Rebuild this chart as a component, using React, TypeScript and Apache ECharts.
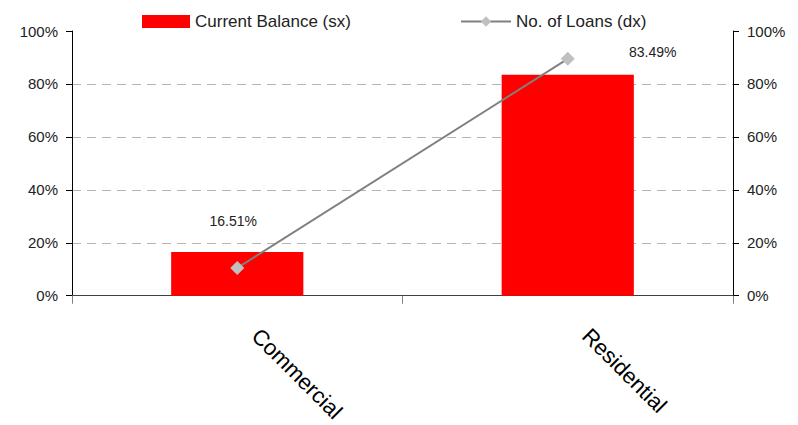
import React, { useEffect, useRef } from "react";
import * as echarts from "echarts";

const categories = ["Commercial", "Residential"];
const balanceValues = [16.51, 83.49];
const loanValues = [10.5, 89.5];
const yTicks = { min: 0, max: 100, interval: 20 };
const balanceName = "Current Balance (sx)";
const loansName = "No. of Loans (dx)";

const FONT = "Arial, 'Liberation Sans', sans-serif";

export default function App() {
  const ref = useRef<HTMLDivElement>(null);
  useEffect(() => {
    if (!ref.current) return;
    const chart = echarts.init(ref.current, undefined, { renderer: "svg" });
    const yAxisBase = (position: "left" | "right") => ({
      type: "value",
      position,
      min: yTicks.min,
      max: yTicks.max,
      interval: yTicks.interval,
      axisLine: { show: true, lineStyle: { color: "#000", width: 1 } },
      axisTick: { show: true, length: 6, inside: false, lineStyle: { color: "#000" } },
      axisLabel: {
        formatter: "{value}%",
        color: "#222",
        fontSize: 15,
        fontFamily: FONT,
        margin: 14,
      },
    });
    chart.setOption({
      animation: false,
      textStyle: { fontFamily: FONT },
      grid: { left: 72, right: 65, top: 31, bottom: 129, containLabel: false },
      legend: [
        {
          data: [{ name: balanceName, icon: "rect" }],
          left: 142,
          top: 13,
          padding: 0,
          itemWidth: 48,
          itemHeight: 13,
          textStyle: { color: "#222", fontSize: 17, fontFamily: FONT },
        },
        {
          data: [loansName],
          left: 460,
          top: 13,
          padding: 0,
          itemWidth: 50,
          itemHeight: 13,
          textStyle: { color: "#222", fontSize: 17, fontFamily: FONT },
        },
      ],
      xAxis: {
        type: "category",
        data: categories,
        boundaryGap: true,
        axisLine: { show: true, lineStyle: { color: "#404040", width: 1 } },
        axisTick: { show: true, alignWithLabel: false, length: 8, lineStyle: { color: "#808080" } },
        axisLabel: {
          rotate: -45,
          color: "#000",
          fontSize: 22,
          fontFamily: FONT,
          margin: 18,
          padding: [0, 0, 0, 26],
        },
      },
      yAxis: [
        {
          ...yAxisBase("left"),
          splitLine: {
            show: true,
            showMinLine: false,
            showMaxLine: false,
            lineStyle: { color: "#b4b4b4", type: [9, 6], width: 1 },
          },
        },
        { ...yAxisBase("right"), splitLine: { show: false } },
      ],
      series: [
        {
          name: balanceName,
          type: "bar",
          yAxisIndex: 0,
          barWidth: "40%",
          itemStyle: { color: "#ff0000" },
          data: [
            {
              value: balanceValues[0],
              label: { show: true, position: "top", offset: [-4, -19] },
            },
            {
              value: balanceValues[1],
              label: { show: true, position: "top", offset: [85, -11] },
            },
          ],
          label: {
            show: true,
            formatter: "{c}%",
            color: "#222",
            fontSize: 14,
            fontFamily: FONT,
          },
        },
        {
          name: loansName,
          type: "line",
          yAxisIndex: 1,
          data: loanValues,
          symbol: "diamond",
          symbolSize: 14,
          lineStyle: { color: "#808080", width: 2 },
          itemStyle: { color: "#c0c0c0" },
          z: 3,
        },
      ],
    });
    return () => chart.dispose();
  }, []);
  return (
    <div
      ref={ref}
      style={{ position: "fixed", left: 0, top: 0, width: 798, height: 425, background: "#fff" }}
    />
  );
}
